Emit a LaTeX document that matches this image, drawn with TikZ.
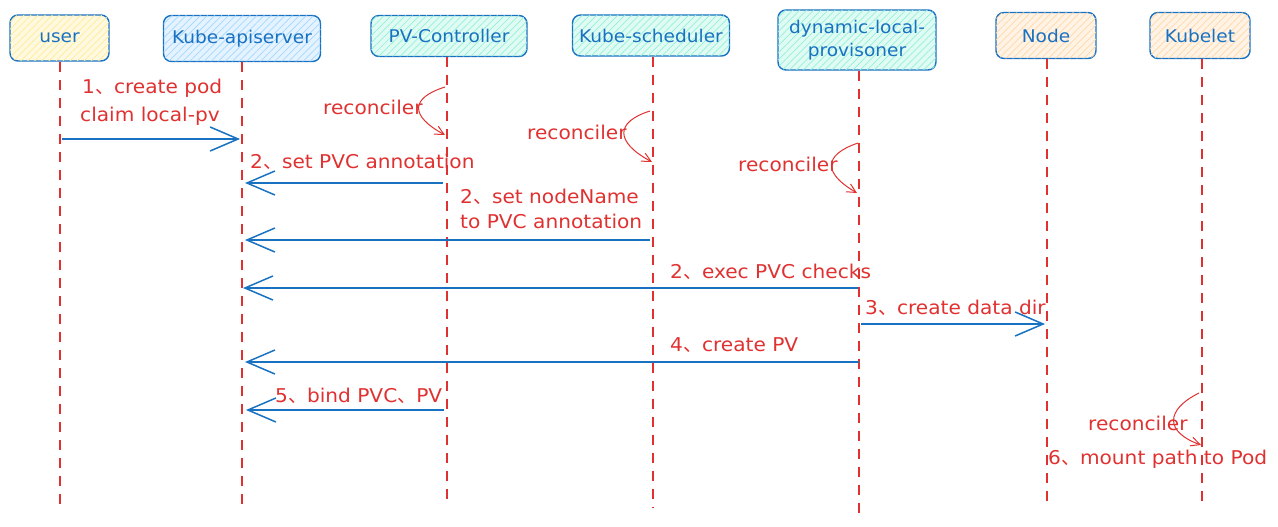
\documentclass[tikz,border=0pt]{standalone}
\usepackage{fontspec}
\setmainfont{DejaVu Sans}[FakeStretch=1.06]
\newfontfamily\cjkfont{Noto Sans CJK SC}
\newcommand\dn{{\cjkfont 、}}
\usetikzlibrary{arrows.meta,patterns.meta}
\definecolor{sblue}{HTML}{1971C2}
\definecolor{sred}{HTML}{E03131}
\definecolor{fyellow}{HTML}{FFEC99}
\definecolor{fblue}{HTML}{A5D8FF}
\definecolor{fgreen}{HTML}{96F2D7}
\definecolor{forange}{HTML}{FFD8A8}
\tikzset{
  actor/.style={draw=sblue, line width=1.4pt, rounded corners=8pt, text=sblue,
    font=\fontsize{17.5}{23}\selectfont, align=center, inner sep=0pt},
  hatch/.style={fill=#1!30, postaction={pattern={Lines[angle=45,distance=5pt,line width=0.7pt]}, pattern color=#1}},
  life/.style={draw=sred, line width=1.3pt, dash pattern=on 10pt off 8pt},
  msg/.style={draw=sblue, line width=1.7pt, -{Straight Barb[length=28pt,width=24pt,line width=1.5pt]}},
  lbl/.style={text=sred, font=\fontsize{19}{20}\selectfont, anchor=west, inner sep=0pt},
  loop/.style={draw=sred, line width=1pt, -{Straight Barb[length=9pt,width=9pt]}},
}
\begin{document}
\begin{tikzpicture}[x=1pt,y=-1pt]
\useasboundingbox (0,0) rectangle (1278,527);
% actors
\node[actor, hatch=fyellow, minimum width=99pt, minimum height=46pt] (user) at (59.5,38) {user};
\node[actor, hatch=fblue, minimum width=157pt, minimum height=46pt] (api) at (242,38.5) {Kube-apiserver};
\node[actor, hatch=fgreen, minimum width=156pt, minimum height=41pt] (pvc) at (449,36) {PV-Controller};
\node[actor, hatch=fgreen, minimum width=157pt, minimum height=41pt] (sch) at (651,35.5) {Kube-scheduler};
\node[actor, hatch=fgreen, minimum width=158pt, minimum height=60pt] (dyn) at (857,40) {dynamic-local-\\provisoner};
\node[actor, hatch=forange, minimum width=100pt, minimum height=46pt] (nd) at (1046,35.5) {Node};
\node[actor, hatch=forange, minimum width=100pt, minimum height=46pt] (kub) at (1200,35.5) {Kubelet};
% lifeline ends
\coordinate (userE) at (60,510);
\coordinate (apiE) at (242,508);
\coordinate (pvcE) at (447,502);
\coordinate (schE) at (653,508);
\coordinate (dynE) at (859,517);
\coordinate (ndE) at (1047,506);
\coordinate (kubE) at (1202,507);
\draw[life] (user.south -| userE) -- (userE);
\draw[life] (api.south -| apiE) -- (apiE);
\draw[life] (pvc.south -| pvcE) -- (pvcE);
\draw[life] (sch.south -| schE) -- (schE);
\draw[life] (dyn.south -| dynE) -- (dynE);
\draw[life] (nd.south -| ndE) -- (ndE);
\draw[life] (kub.south -| kubE) -- (kubE);
% message end points
\coordinate (m1a) at (62,139); \coordinate (m1b) at (240,139);
\coordinate (m2a) at (443,183); \coordinate (m2b) at (245,183);
\coordinate (m3a) at (650,240); \coordinate (m3b) at (245,240);
\coordinate (m4a) at (858,288); \coordinate (m4b) at (243,288);
\coordinate (m5a) at (861,324); \coordinate (m5b) at (1045,324);
\coordinate (m6a) at (859,362); \coordinate (m6b) at (245,362);
\coordinate (m7a) at (444,410); \coordinate (m7b) at (246,410);
\draw[msg] (m1a) -- (m1b);
\draw[msg] (m2a) -- (m2b);
\draw[msg] (m3a) -- (m3b);
\draw[msg] (m4a) -- (m4b);
\draw[msg] (m5a) -- (m5b);
\draw[msg] (m6a) -- (m6b);
\draw[msg] (m7a) -- (m7b);
% message labels
\node[lbl] (t1) at (82,88) {1\dn create pod};
\node[lbl] (t1b) at (80,116) {claim local-pv};
\node[lbl] (t2) at (250,162) {2\dn set PVC annotation};
\node[lbl] (t3) at (460,197) {2\dn set nodeName};
\node[lbl] (t3b) at (460,221) {to PVC annotation};
\node[lbl] (t4) at (670,272) {2\dn exec PVC checks};
\node[lbl] (t5) at (865,308) {3\dn create data dir};
\node[lbl] (t6) at (670,345) {4\dn create PV};
\node[lbl] (t7) at (275,396) {5\dn bind PVC\dn PV};
\node[lbl] (t8) at (1048,459) {6\dn mount path to Pod};
% reconciler loops
\coordinate (r1a) at (445,87); \coordinate (r1b) at (445,135);
\coordinate (r2a) at (650,111); \coordinate (r2b) at (652,162);
\coordinate (r3a) at (858,143); \coordinate (r3b) at (857,193);
\coordinate (r4a) at (1199,393); \coordinate (r4b) at (1201,445);
\draw[loop] (r1a) .. controls (410,98) and (410,116) .. (r1b);
\draw[loop] (r2a) .. controls (615,122) and (615,142) .. (r2b);
\draw[loop] (r3a) .. controls (823,155) and (823,173) .. (r3b);
\draw[loop] (r4a) .. controls (1165,410) and (1165,432) .. (r4b);
\node[lbl] (rc1) at (323,107) {reconciler};
\node[lbl] (rc2) at (527,132) {reconciler};
\node[lbl] (rc3) at (738,164) {reconciler};
\node[lbl] (rc4) at (1088,423) {reconciler};
\end{tikzpicture}
\end{document}
